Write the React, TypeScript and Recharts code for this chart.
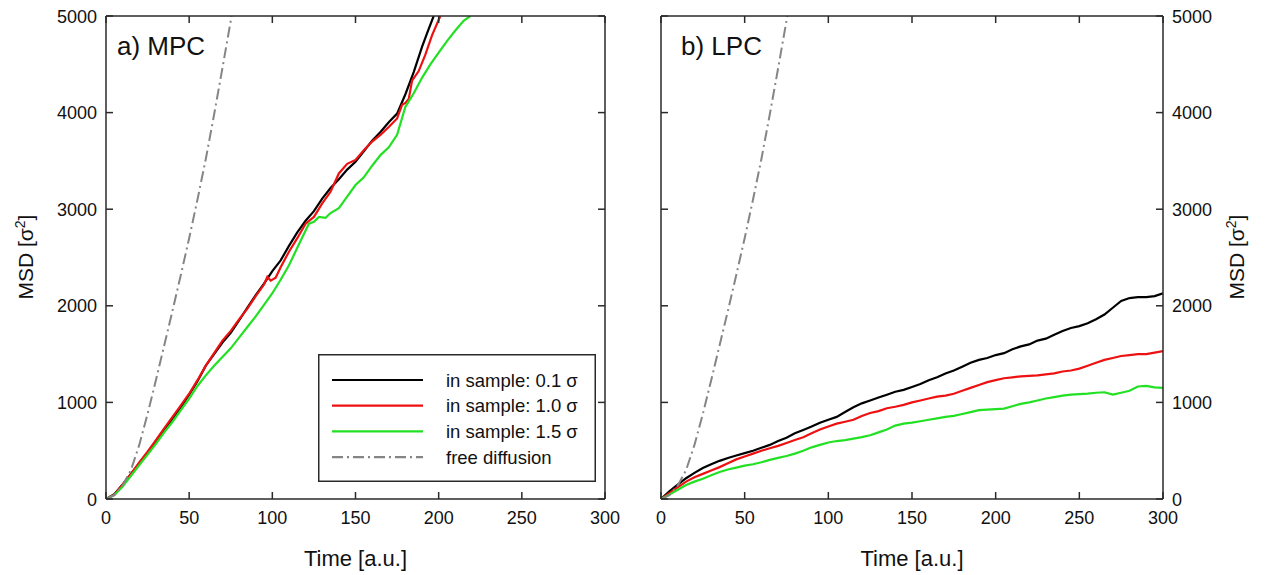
import React from 'react';
import { LineChart, Line, XAxis, YAxis, Legend } from 'recharts';

const FONT = '"Liberation Sans", Arial, Helvetica, sans-serif';
const AXIS = '#2a2a2a';
const TEXT = '#111111';

const xTicks = [0, 50, 100, 150, 200, 250, 300];
const yTicks = [0, 1000, 2000, 3000, 4000, 5000];

const seriesNames = ['in sample: 0.1 σ', 'in sample: 1.0 σ', 'in sample: 1.5 σ', 'free diffusion'];
const seriesColors = ['#000000', '#ee1111', '#22e022', '#858585'];
const seriesDash = [undefined, undefined, undefined, '11 4 2 4'];

const freeDiffusion: [number, number][] = [
  [0, 0], [5, 40], [10, 140], [15, 300], [20, 560], [25, 880], [30, 1230], [35, 1590],
  [40, 1950], [45, 2320], [50, 2700], [55, 3100], [60, 3520], [65, 3980], [70, 4460], [75.5, 5000],
];

// a) MPC
const mpcBlack: [number, number][] = [
  [0, 0], [5, 50], [10, 150], [15, 260], [20, 370], [25, 480], [30, 600], [35, 720], [40, 830],
  [45, 950], [50, 1080], [55, 1220], [60, 1380], [65, 1500], [70, 1620], [75, 1720], [80, 1850],
  [85, 1980], [90, 2110], [95, 2230], [100, 2360], [105, 2470], [110, 2620], [115, 2760],
  [120, 2880], [125, 2980], [130, 3110], [135, 3220], [140, 3310], [145, 3410], [150, 3490],
  [155, 3600], [160, 3710], [165, 3800], [170, 3900], [175, 3990], [180, 4190], [185, 4420],
  [190, 4680], [193, 4820], [197, 5000],
];
const mpcRed: [number, number][] = [
  [0, 0], [5, 45], [10, 150], [15, 260], [20, 380], [25, 490], [30, 610], [35, 730], [40, 850],
  [45, 970], [50, 1090], [55, 1230], [60, 1380], [65, 1510], [70, 1640], [75, 1740], [80, 1860],
  [85, 1970], [90, 2100], [95, 2220], [97, 2300], [99, 2260], [102, 2290], [105, 2400],
  [110, 2560], [115, 2700], [120, 2850], [125, 2920], [130, 3060], [135, 3180], [140, 3370],
  [145, 3470], [150, 3510], [155, 3610], [160, 3700], [165, 3770], [170, 3850], [175, 3940],
  [178, 4080], [180, 4100], [182, 4140], [184, 4330], [188, 4430], [192, 4600], [196, 4800],
  [201, 5000],
];
const mpcGreen: [number, number][] = [
  [0, 0], [5, 40], [10, 130], [15, 240], [20, 350], [25, 460], [30, 570], [35, 690], [40, 800],
  [45, 920], [50, 1040], [55, 1170], [60, 1280], [65, 1380], [70, 1470], [75, 1560], [80, 1670],
  [85, 1780], [90, 1890], [95, 2010], [100, 2130], [105, 2270], [110, 2420], [115, 2600],
  [120, 2780], [122, 2850], [125, 2870], [128, 2920], [132, 2910], [135, 2960], [140, 3010],
  [145, 3130], [150, 3250], [155, 3330], [160, 3450], [165, 3560], [170, 3640], [175, 3770],
  [180, 4060], [185, 4200], [190, 4360], [195, 4500], [200, 4620], [205, 4740], [210, 4850],
  [215, 4950], [219, 5000],
];

// b) LPC
const lpcBlack: [number, number][] = [
  [0, 0], [5, 80], [10, 150], [15, 215], [20, 270], [25, 320], [30, 360], [35, 395], [40, 425],
  [45, 450], [50, 475], [55, 500], [60, 530], [65, 560], [70, 600], [75, 635], [80, 680],
  [85, 715], [90, 750], [95, 790], [100, 820], [105, 850], [110, 900], [115, 950], [120, 990],
  [125, 1020], [130, 1050], [135, 1080], [140, 1110], [145, 1130], [150, 1160], [155, 1190],
  [160, 1230], [165, 1260], [170, 1300], [175, 1330], [180, 1370], [185, 1410], [190, 1440],
  [195, 1460], [200, 1490], [205, 1510], [210, 1550], [215, 1580], [220, 1600], [225, 1640],
  [230, 1660], [235, 1700], [240, 1740], [245, 1770], [250, 1790], [255, 1820], [260, 1860],
  [265, 1910], [270, 1980], [275, 2050], [280, 2080], [285, 2090], [290, 2090], [295, 2100],
  [300, 2130],
];
const lpcRed: [number, number][] = [
  [0, 0], [5, 60], [10, 120], [15, 180], [20, 225], [25, 260], [30, 295], [35, 330], [40, 370],
  [45, 410], [50, 440], [55, 470], [60, 500], [65, 525], [70, 550], [75, 580], [80, 610],
  [85, 640], [90, 680], [95, 720], [100, 750], [105, 780], [110, 800], [115, 820], [120, 860],
  [125, 890], [130, 910], [135, 940], [140, 955], [145, 975], [150, 1000], [155, 1020],
  [160, 1040], [165, 1060], [170, 1070], [175, 1090], [180, 1120], [185, 1150], [190, 1180],
  [195, 1210], [200, 1230], [205, 1250], [210, 1260], [215, 1270], [220, 1275], [225, 1280],
  [230, 1290], [235, 1300], [240, 1320], [245, 1330], [250, 1350], [255, 1380], [260, 1410],
  [265, 1440], [270, 1460], [275, 1480], [280, 1490], [285, 1500], [290, 1500], [295, 1515],
  [300, 1530],
];
const lpcGreen: [number, number][] = [
  [0, 0], [5, 45], [10, 95], [15, 145], [20, 180], [25, 210], [30, 245], [35, 280], [40, 305],
  [45, 325], [50, 345], [55, 360], [60, 380], [65, 405], [70, 425], [75, 445], [80, 470],
  [85, 500], [90, 535], [95, 560], [100, 585], [105, 600], [110, 610], [115, 625], [120, 640],
  [125, 660], [130, 690], [135, 720], [140, 760], [145, 780], [150, 790], [155, 805], [160, 820],
  [165, 835], [170, 850], [175, 860], [180, 880], [185, 900], [190, 920], [195, 925], [200, 930],
  [205, 935], [210, 960], [215, 985], [220, 1000], [225, 1020], [230, 1040], [235, 1055],
  [240, 1070], [245, 1080], [250, 1085], [255, 1090], [260, 1100], [265, 1105], [270, 1080],
  [275, 1100], [280, 1120], [285, 1165], [290, 1170], [295, 1155], [300, 1150],
];

const toPts = (a: [number, number][]) => a.map(([t, v]) => ({ t, v }));

const BottomTick = (props: any) => {
  const { x, y, payload } = props;
  return (
    <g>
      <line x1={x} x2={x} y1={y} y2={y - 7} stroke={AXIS} strokeWidth={1.5} />
      <text x={x} y={y + 25} textAnchor="middle" fontSize={18} fill={TEXT} fontFamily={FONT}>
        {payload.value}
      </text>
    </g>
  );
};
const TopTick = (props: any) => {
  const { x, y } = props;
  return <line x1={x} x2={x} y1={y} y2={y + 7} stroke={AXIS} strokeWidth={1.5} />;
};
const LeftTickLabel = (props: any) => {
  const { x, y, payload } = props;
  return (
    <g>
      <line x1={x} x2={x + 7} y1={y} y2={y} stroke={AXIS} strokeWidth={1.5} />
      <text x={x - 9} y={y + 6.5} textAnchor="end" fontSize={18} fill={TEXT} fontFamily={FONT}>
        {payload.value}
      </text>
    </g>
  );
};
const LeftTickBare = (props: any) => {
  const { x, y } = props;
  return <line x1={x} x2={x + 7} y1={y} y2={y} stroke={AXIS} strokeWidth={1.5} />;
};
const RightTickLabel = (props: any) => {
  const { x, y, payload } = props;
  return (
    <g>
      <line x1={x} x2={x - 7} y1={y} y2={y} stroke={AXIS} strokeWidth={1.5} />
      <text x={x + 9} y={y + 6.5} textAnchor="start" fontSize={18} fill={TEXT} fontFamily={FONT}>
        {payload.value}
      </text>
    </g>
  );
};
const RightTickBare = (props: any) => {
  const { x, y } = props;
  return <line x1={x} x2={x - 7} y1={y} y2={y} stroke={AXIS} strokeWidth={1.5} />;
};

const msdLabel = (baseX: number, cy: number) => () => (
  <text
    x={0}
    y={0}
    transform={`translate(${baseX} ${cy}) rotate(-90)`}
    textAnchor="middle"
    fontSize={21}
    fill={TEXT}
    fontFamily={FONT}
  >
    MSD [σ<tspan dy={-8} fontSize={14}>2</tspan>
    <tspan dy={8}>]</tspan>
  </text>
);

const timeLabel = (cx: number) => () => (
  <text x={cx} y={566} textAnchor="middle" fontSize={22} fill={TEXT} fontFamily={FONT}>
    Time [a.u.]
  </text>
);

const panelLabel = (text: string, x: number) => () => (
  <text x={x} y={55} fontSize={26} fill={TEXT} fontFamily={FONT}>
    {text}
  </text>
);

const LegendBox = () => (
  <svg width={278} height={128} style={{ display: 'block' }}>
    <rect x={0.75} y={0.75} width={276.5} height={126.5} fill="#ffffff" stroke={AXIS} strokeWidth={1.5} />
    {seriesNames.map((name, i) => {
      const yy = 26 + i * 25.7;
      return (
        <g key={name}>
          <line
            x1={14}
            x2={105}
            y1={yy}
            y2={yy}
            stroke={seriesColors[i]}
            strokeWidth={2.2}
            strokeDasharray={seriesDash[i]}
          />
          <text x={128} y={yy + 6.5} fontSize={18.5} fill={TEXT} fontFamily={FONT}>
            {name}
          </text>
        </g>
      );
    })}
  </svg>
);

const axisLineStyle = { stroke: AXIS, strokeWidth: 1.5 };

const Panel = ({
  left,
  width,
  leftW,
  rightW,
  labelSide,
  series,
  title,
  titleX,
  msdX,
  showLegend,
}: any) => {
  const timeCx = leftW + (width - leftW - rightW) / 2;
  return (
    <div style={{ position: 'absolute', left, top: 0 }}>
      <LineChart width={width} height={575} margin={{ top: 0, right: 0, bottom: 36, left: 0 }}>
        <XAxis
          dataKey="t"
          type="number"
          domain={[0, 300]}
          ticks={xTicks}
          interval={0}
          allowDataOverflow
          height={40}
          tickLine={false}
          tickSize={0}
          tickMargin={0}
          axisLine={axisLineStyle}
          tick={<BottomTick />}
          label={{ content: timeLabel(timeCx) }}
        />
        <XAxis
          xAxisId="top"
          orientation="top"
          dataKey="t"
          type="number"
          domain={[0, 300]}
          ticks={xTicks}
          interval={0}
          allowDataOverflow
          height={16}
          tickLine={false}
          tickSize={0}
          tickMargin={0}
          axisLine={axisLineStyle}
          tick={<TopTick />}
          label={{ content: panelLabel(title, titleX) }}
        />
        <YAxis
          type="number"
          domain={[0, 5000]}
          ticks={yTicks}
          interval={0}
          allowDataOverflow
          width={leftW}
          tickLine={false}
          tickSize={0}
          tickMargin={0}
          axisLine={axisLineStyle}
          tick={labelSide === 'left' ? <LeftTickLabel /> : <LeftTickBare />}
          label={labelSide === 'left' ? { content: msdLabel(msdX, 257) } : undefined}
        />
        <YAxis
          yAxisId="r"
          orientation="right"
          type="number"
          domain={[0, 5000]}
          ticks={yTicks}
          interval={0}
          allowDataOverflow
          width={rightW}
          tickLine={false}
          tickSize={0}
          tickMargin={0}
          axisLine={axisLineStyle}
          tick={labelSide === 'right' ? <RightTickLabel /> : <RightTickBare />}
          label={labelSide === 'right' ? { content: msdLabel(msdX, 257) } : undefined}
        />
        {series.map((s: [number, number][], i: number) => (
          <Line
            key={i}
            data={toPts(s)}
            dataKey="v"
            name={seriesNames[i]}
            type="linear"
            stroke={seriesColors[i]}
            strokeWidth={i === 3 ? 2 : 2.2}
            strokeDasharray={seriesDash[i]}
            dot={false}
            activeDot={false}
            isAnimationActive={false}
          />
        ))}
        {showLegend && (
          <Legend
            layout="vertical"
            align="center"
            verticalAlign="middle"
            wrapperStyle={{ left: 318, top: 354, width: 278, height: 128 }}
            content={() => <LegendBox />}
          />
        )}
      </LineChart>
    </div>
  );
};

export default function App() {
  return (
    <div
      style={{
        position: 'absolute',
        left: 0,
        top: 0,
        width: 1267,
        height: 575,
        background: '#ffffff',
        overflow: 'hidden',
      }}
    >
      <Panel
        left={0}
        width={640}
        leftW={106}
        rightW={35}
        labelSide="left"
        series={[mpcBlack, mpcRed, mpcGreen, freeDiffusion]}
        title="a) MPC"
        titleX={117}
        msdX={33}
        showLegend
      />
      <Panel
        left={640}
        width={627}
        leftW={21}
        rightW={104}
        labelSide="right"
        series={[lpcBlack, lpcRed, lpcGreen, freeDiffusion]}
        title="b) LPC"
        titleX={41}
        msdX={604}
        showLegend={false}
      />
    </div>
  );
}
